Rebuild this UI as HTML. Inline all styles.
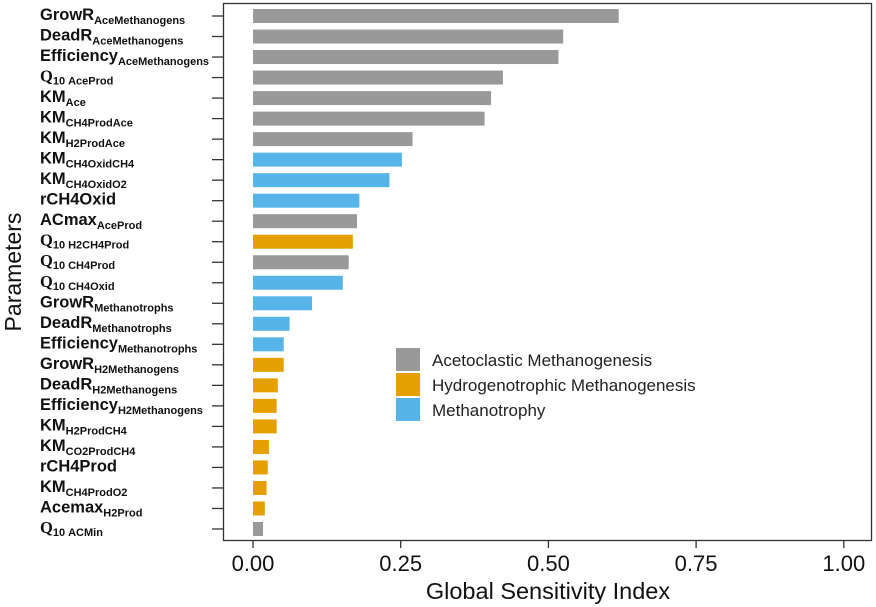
<!DOCTYPE html>
<html><head><meta charset="utf-8"><style>
body{margin:0;background:#fff}
svg{display:block;font-family:"Liberation Sans",Arial,sans-serif}
.l{font-weight:bold;font-size:16.5px}
.s{font-size:11px}
</style></head><body>
<svg width="876" height="607" xmlns="http://www.w3.org/2000/svg">
<rect x="223.5" y="3.5" width="648" height="537" fill="none" stroke="#333" stroke-width="1.3"/>
<g id="bars"></g>
<g stroke="#333" stroke-width="1.3">
<line x1="253" y1="541" x2="253" y2="548"/><line x1="400.7" y1="541" x2="400.7" y2="548"/>
<line x1="548.4" y1="541" x2="548.4" y2="548"/><line x1="696.1" y1="541" x2="696.1" y2="548"/>
<line x1="843.8" y1="541" x2="843.8" y2="548"/>
</g>
<g font-size="22" text-anchor="middle" fill="#111">
<text x="253" y="571">0.00</text><text x="400.7" y="571">0.25</text><text x="548.4" y="571">0.50</text>
<text x="696.1" y="571">0.75</text><text x="843.8" y="571">1.00</text>
</g>
<text x="548" y="599" font-size="23.5" text-anchor="middle" fill="#111">Global Sensitivity Index</text>
<text transform="translate(21,272) rotate(-90)" font-size="23" text-anchor="middle" fill="#111">Parameters</text>
<rect x="396" y="348" width="24" height="23" fill="#999"/>
<rect x="396" y="373" width="24" height="23" fill="#e69f00"/>
<rect x="396" y="398" width="24" height="23" fill="#56b4e9"/>
<g font-size="17" fill="#222">
<text x="432" y="366">Acetoclastic Methanogenesis</text>
<text x="432" y="391">Hydrogenotrophic Methanogenesis</text>
<text x="432" y="416">Methanotrophy</text>
</g>
<g id="labels"></g>
</svg>
<script>
var Q="<tspan font-family='Liberation Serif,serif'>Q</tspan><tspan class='s' dy='3'>10</tspan>";
var d=[["GrowR","AceMethanogens",.619,"g"],["DeadR","AceMethanogens",.525,"g"],["Efficiency","AceMethanogens",.517,"g"],
[Q,"AceProd",.423,"g",1],["KM","Ace",.403,"g"],["KM","CH4ProdAce",.392,"g"],["KM","H2ProdAce",.27,"g"],
["KM","CH4OxidCH4",.252,"b"],["KM","CH4OxidO2",.231,"b"],["rCH4Oxid","",.18,"b"],["ACmax","AceProd",.176,"g"],
[Q,"H2CH4Prod",.169,"o",1],[Q,"CH4Prod",.162,"g",1],[Q,"CH4Oxid",.152,"b",1],
["GrowR","Methanotrophs",.1,"b"],["DeadR","Methanotrophs",.062,"b"],["Efficiency","Methanotrophs",.052,"b"],
["GrowR","H2Methanogens",.052,"o"],["DeadR","H2Methanogens",.042,"o"],["Efficiency","H2Methanogens",.04,"o"],
["KM","H2ProdCH4",.04,"o"],["KM","CO2ProdCH4",.027,"o"],["rCH4Prod","",.025,"o"],["KM","CH4ProdO2",.023,"o"],
["Acemax","H2Prod",.02,"o"],[Q,"ACMin",.017,"g",1]];
var col={g:"#999999",o:"#e69f00",b:"#56b4e9"};
var b="",l="";
d.forEach(function(r,i){var y=16+i*20.52;
b+="<rect x='253' y='"+(y-7)+"' width='"+(r[2]*590.8)+"' height='14' fill='"+col[r[3]]+"'/>";
b+="<line x1='212' y1='"+y+"' x2='223' y2='"+y+"' stroke='#333' stroke-width='1.3'/>";
var sub=r[1]?(r[4]?"<tspan class='s' dx='3'>"+r[1]+"</tspan>":"<tspan class='s' dy='4'>"+r[1]+"</tspan>"):"";
l+="<text class='l' x='40' y='"+(y+4)+"' fill='#111'>"+r[0]+sub+"</text>";});
document.getElementById("bars").innerHTML=b;document.getElementById("labels").innerHTML=l;
</script>
</body></html>
